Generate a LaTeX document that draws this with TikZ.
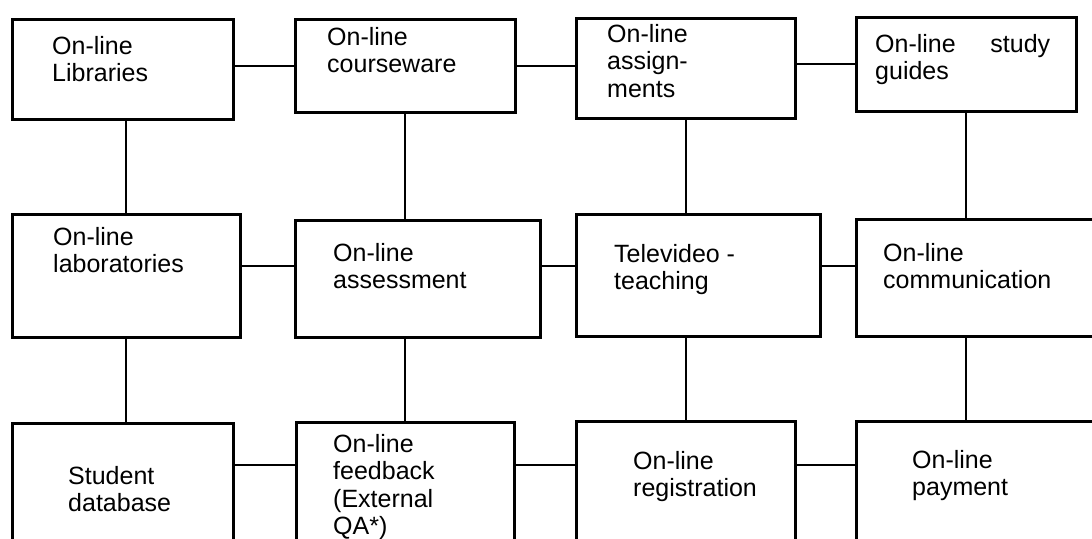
\documentclass[tikz,border=0pt]{standalone}
\usepackage{fontspec}
\setmainfont{Liberation Sans}
\newcommand{\tlines}[1]{\vtop{\baselineskip=27.5pt\lineskiplimit=-20pt\halign{##\hfil\cr#1\crcr}}}
\begin{document}
\begin{tikzpicture}[x=1pt,y=-1pt,
  box/.style={draw, line width=2.6pt, rectangle, inner sep=0pt, anchor=north west},
  link/.style={line width=2.2pt},
  lbl/.style={anchor=base west, inner sep=0pt, font=\fontsize{25}{27.5}\selectfont}]
\useasboundingbox (0,0) rectangle (1092,538);
\fill[white] (0,0) rectangle (1092,538);
\clip (0,0) rectangle (1092,538);
% boxes
\node[box, minimum width=221pt, minimum height=100pt] (lib) at (11,18) {};
\node[box, minimum width=220pt, minimum height=93pt] (course) at (294,18) {};
\node[box, minimum width=219pt, minimum height=100pt] (assign) at (575,17) {};
\node[box, minimum width=220pt, minimum height=94pt] (study) at (855,16) {};
\node[box, minimum width=228pt, minimum height=123pt] (lab) at (11,213) {};
\node[box, minimum width=245pt, minimum height=117pt] (assess) at (294,219) {};
\node[box, minimum width=244pt, minimum height=122pt] (tele) at (575,213) {};
\node[box, minimum width=260pt, minimum height=117pt] (comm) at (855,218) {};
\node[box, minimum width=221pt, minimum height=140pt] (student) at (11,422) {};
\node[box, minimum width=218pt, minimum height=140pt] (feedback) at (295,421) {};
\node[box, minimum width=219pt, minimum height=140pt] (reg) at (575,420) {};
\node[box, minimum width=260pt, minimum height=140pt] (pay) at (855,420) {};
\coordinate (r2) at (0,266);
\coordinate (r3) at (0,465);
% row 1 links
\draw[link] (lib.east |- course.west) -- (course.west);
\draw[link] (course.east) -- (course.east -| assign.west);
\draw[link] (assign.east |- study.west) -- (study.west);
% row 1 to row 2
\draw[link] (lab.north) -- (lab.north |- lib.south);
\draw[link] (course.south) -- (course.south |- assess.north);
\draw[link] (assign.south) -- (assign.south |- tele.north);
\draw[link] (study.south) -- (study.south |- comm.north);
% row 2 links
\draw[link] (lab.east |- r2) -- (assess.west |- r2);
\draw[link] (assess.east |- r2) -- (tele.west |- r2);
\draw[link] (tele.east |- r2) -- (comm.west |- r2);
% row 2 to row 3
\draw[link] (lab.south) -- (lab.south |- student.north);
\draw[link] (feedback.north) -- (feedback.north |- assess.south);
\draw[link] (reg.north) -- (reg.north |- tele.south);
\draw[link] (study.south |- comm.south) -- (study.south |- pay.north);
% row 3 links
\draw[link] (student.east |- r3) -- (feedback.west |- r3);
\draw[link] (feedback.east |- r3) -- (reg.west |- r3);
\draw[link] (reg.east |- r3) -- (pay.west |- r3);
% labels
\node[lbl] (tlib) at (52,54) {\tlines{On-line\cr Libraries}};
\node[lbl] (tcourse) at (327,45) {\tlines{On-line\cr courseware}};
\node[lbl] (tassign) at (607,42) {\tlines{On-line\cr assign-\cr ments}};
\node[lbl] (tstudy) at (875,52) {\tlines{\hbox to 175pt{On-line\hfill study}\cr guides}};
\node[lbl] (tlab) at (53,245) {\tlines{On-line\cr laboratories}};
\node[lbl] (tassess) at (333,261) {\tlines{On-line\cr assessment}};
\node[lbl] (ttele) at (614,262) {\tlines{Televideo -\cr teaching}};
\node[lbl] (tcomm) at (883,261) {\tlines{On-line\cr communication}};
\node[lbl] (tstudent) at (68,484) {\tlines{Student\cr database}};
\node[lbl] (tfeed) at (333,452) {\tlines{On-line\cr feedback\cr (External\cr QA*)}};
\node[lbl] (treg) at (633,469) {\tlines{On-line\cr registration}};
\node[lbl] (tpay) at (912,468) {\tlines{On-line\cr payment}};
\end{tikzpicture}
\end{document}
